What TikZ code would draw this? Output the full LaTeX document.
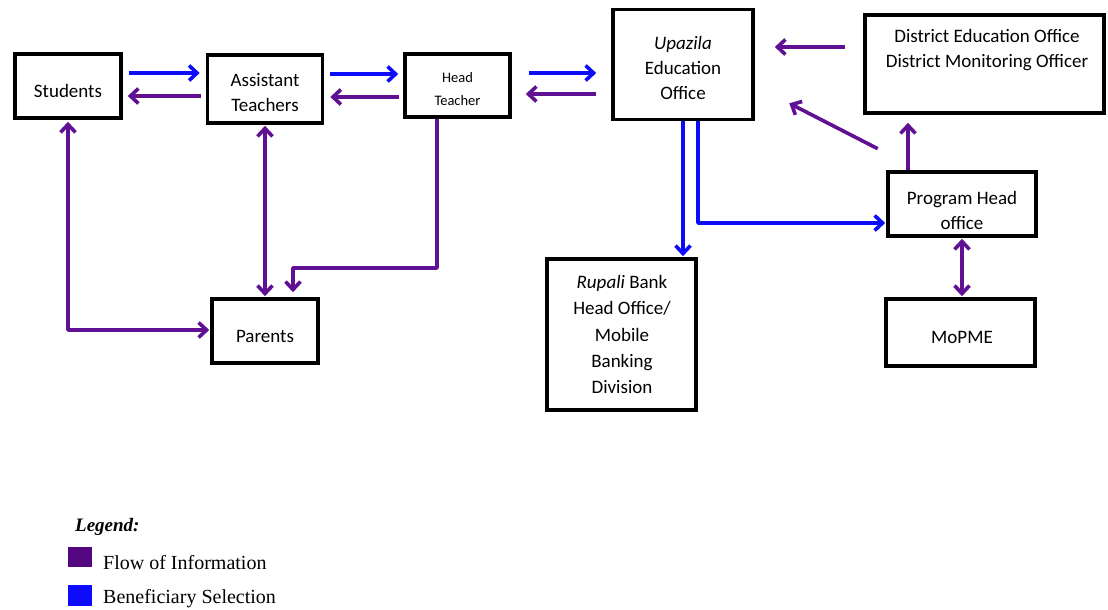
\documentclass[tikz,border=0pt]{standalone}
\usepackage{fontspec}
\setmainfont{Carlito}
\newfontfamily\legendfont{Liberation Serif}
\usetikzlibrary{arrows.meta,calc}
\definecolor{infoPurple}{RGB}{96,16,146}
\definecolor{legPurple}{RGB}{84,6,130}
\definecolor{selBlue}{RGB}{12,12,250}
\begin{document}
\begin{tikzpicture}[x=1pt,y=-1pt,
  >={Straight Barb[length=8pt,width=15pt]},
  box/.style={draw=black, line width=3.6pt, rectangle, inner sep=0pt},
  txt/.style={align=center, inner sep=0pt, font=\fontsize{19}{25}\selectfont},
  conn/.style={line width=3.6pt, line join=round},
  info/.style={conn, draw=infoPurple},
  sel/.style={conn, draw=selBlue},
  legtxt/.style={anchor=west, inner sep=0pt, font=\legendfont\fontsize{20}{22}\selectfont}
]
\useasboundingbox (0,0) rectangle (1108,610);

% boxes
\node[box, minimum width=106pt, minimum height=64pt] (stu) at (68,86) {};
\node[box, minimum width=115pt, minimum height=68pt] (at) at (265,89) {};
\node[box, minimum width=105pt, minimum height=63pt] (ht) at (457.5,85.5) {};
\node[box, minimum width=140pt, minimum height=110pt] (upa) at (683,64.5) {};
\node[box, minimum width=239pt, minimum height=98pt] (dis) at (984.5,64) {};
\node[box, minimum width=148pt, minimum height=64pt] (ph) at (962,204) {};
\node[box, minimum width=149pt, minimum height=67pt] (mop) at (960.5,332.5) {};
\node[box, minimum width=149pt, minimum height=151pt] (rup) at (621.5,334.5) {};
\node[box, minimum width=106pt, minimum height=64pt] (par) at (265,331) {};

% texts
\node[txt] (stu-t) at (68,91) {Students};
\node[txt] (at-t) at (265,93) {Assistant\\Teachers};
\node[txt, font=\fontsize{14.5}{23}\selectfont] (ht-t) at (457.5,89.5) {Head\\Teacher};
\node[txt] (upa-t) at (683,68) {\textit{Upazila}\\Education\\Office};
\node[txt] (dis-t) at (987,50.5) {District Education Office\\District Monitoring Officer};
\node[txt] (ph-t) at (962,210) {Program Head\\office};
\node[txt] (mop-t) at (962,337) {MoPME};
\node[txt, font=\fontsize{19}{26.2}\selectfont] (rup-t) at (622,334.5) {\textit{Rupali} Bank\\Head Office/\\Mobile\\Banking\\Division};
\node[txt] (par-t) at (265,336) {Parents};

% horizontal connectors along the top row
\draw[sel, ->, shorten <=6pt, shorten >=6pt] (stu.east |- 0,73) -- (at.west |- 0,73);
\draw[info, ->, shorten <=5pt, shorten >=5pt] (at.west |- 0,96) -- (stu.east |- 0,96);
\draw[sel, ->, shorten <=6pt, shorten >=5pt] (at.east |- 0,74) -- (ht.west |- 0,74);
\draw[info, ->, shorten <=4pt, shorten >=6pt] (ht.west |- 0,97) -- (at.east |- 0,97);
\draw[sel, ->, shorten <=17pt, shorten >=15pt] (ht.east |- 0,73) -- (upa.west |- 0,73);
\draw[info, ->, shorten <=15pt, shorten >=14pt] (upa.west |- 0,94) -- (ht.east |- 0,94);
\draw[info, ->, shorten <=18pt, shorten >=20pt] (dis.west |- 0,47) -- (upa.east |- 0,47);

% program head office to upazila (diagonal)
\coordinate (diagS) at ($(ph.north west)+(-8.5,-21.5)$);
\coordinate (diagE) at ($(upa.south east)+(34.5,-18)$);
\draw[info, ->] (diagS) -- (diagE);

% program head office to district
\draw[info, ->, shorten >=8pt] (908,0 |- ph.north) -- (908,0 |- dis.south);

% upazila to rupali and program head
\draw[sel, ->, shorten >=1pt] (683,0 |- upa.south) -- (683,0 |- rup.north);
\draw[sel, ->, shorten >=1pt] (698,0 |- upa.south) |- (ph.west |- 0,223);

% program head <-> MoPME
\draw[info, <->, shorten <=1pt, shorten >=1pt] (962,0 |- ph.south) -- (962,0 |- mop.north);

% parents connections
\draw[info, <->, shorten <=2pt, shorten >=1pt] (stu.south) |- (par.west |- 0,330);
\draw[info, <->, shorten <=1pt, shorten >=1pt] (at.south) -- (at.south |- par.north);
\draw[info, ->, shorten >=5pt] (437,0 |- ht.south) |- (293,268) -- (293,0 |- par.north);

% legend
\node[anchor=west, inner sep=0pt, font=\legendfont\fontsize{19}{20}\selectfont\bfseries\itshape] (leg-t) at (75,527) {Legend:};
\node[fill=legPurple, minimum width=24pt, minimum height=20pt, inner sep=0pt] (leg-p) at (80,557) {};
\node[fill=selBlue, minimum width=24pt, minimum height=21pt, inner sep=0pt] (leg-b) at (80,595.5) {};
\node[legtxt] (leg-pt) at (103,563) {Flow of Information};
\node[legtxt] (leg-bt) at (103,599) {Beneficiary Selection};
\end{tikzpicture}
\end{document}
